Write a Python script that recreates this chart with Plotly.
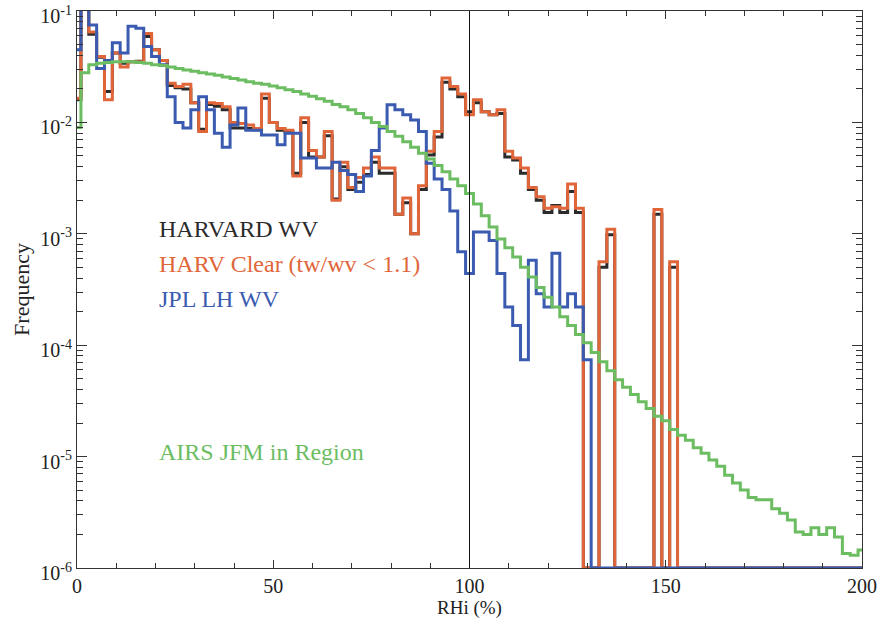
import numpy as np
import plotly.graph_objects as go

# Bin centres (RHi %, 2% bins)
rhi = list(range(0, 202, 2))

harvard_wv = [
    1.6e-2, 0.15, 6.2e-2, 3.85e-2, 1.9e-2, 4.2e-2, 3.4e-2, 3.5e-2, 3.55e-2, 5.9e-2,
    4.5e-2, 3.6e-2, 2.15e-2, 2.05e-2, 2.0e-2, 1.5e-2, 8.7e-3, 1.45e-2, 1.4e-2, 1.3e-2,
    8.9e-3, 8.9e-3, 8.8e-3, 8.6e-3, 1.65e-2, 1.0e-2, 8.5e-3, 8.2e-3, 3.5e-3, 1.0e-2,
    4.9e-3, 4.9e-3, 7.6e-3, 2.05e-3, 4.0e-3, 2.5e-3, 2.9e-3, 3.4e-3, 4.4e-3, 3.5e-3,
    3.5e-3, 1.5e-3, 1.9e-3, 1.0e-3, 2.5e-3, 5.1e-3, 7.4e-3, 2.3e-2, 2.0e-2, 1.7e-2,
    1.25e-2, 1.5e-2, 1.25e-2, 1.17e-2, 1.2e-2, 4.9e-3, 4.6e-3, 3.5e-3, 2.5e-3, 2.0e-3,
    1.55e-3, 1.8e-3, 1.55e-3, 2.4e-3, 1.55e-3, 0, 0, 5.0e-4, 9.8e-4, 0,
    0, 0, 0, 0, 1.5e-3, 0, 5.0e-4, 0, 0, 0,
    0, 0, 0, 0, 0, 0, 0, 0, 0, 0,
    0, 0, 0, 0, 0, 0, 0, 0, 0, 0,
    0,
]

harv_clear = [
    1.65e-2, 0.15, 6.5e-2, 3.9e-2, 1.6e-2, 4.2e-2, 3.15e-2, 3.5e-2, 3.5e-2, 6.3e-2,
    4.5e-2, 3.6e-2, 2.25e-2, 2.1e-2, 2.2e-2, 1.5e-2, 8.3e-3, 1.5e-2, 1.48e-2, 1.38e-2,
    1.0e-2, 9.8e-3, 9.5e-3, 8.8e-3, 1.8e-2, 1.0e-2, 8.8e-3, 8.5e-3, 3.3e-3, 1.1e-2,
    5.6e-3, 4.9e-3, 8.3e-3, 2.0e-3, 4.4e-3, 2.6e-3, 3.2e-3, 3.9e-3, 4.9e-3, 3.9e-3,
    3.9e-3, 1.5e-3, 2.1e-3, 1.0e-3, 2.7e-3, 5.5e-3, 8.3e-3, 2.5e-2, 2.1e-2, 1.8e-2,
    1.17e-2, 1.6e-2, 1.25e-2, 1.17e-2, 1.3e-2, 5.5e-3, 4.8e-3, 3.9e-3, 2.6e-3, 2.15e-3,
    1.7e-3, 1.75e-3, 1.7e-3, 2.8e-3, 1.7e-3, 0, 0, 5.6e-4, 1.1e-3, 0,
    0, 0, 0, 0, 1.65e-3, 0, 5.6e-4, 0, 0, 0,
    0, 0, 0, 0, 0, 0, 0, 0, 0, 0,
    0, 0, 0, 0, 0, 0, 0, 0, 0, 0,
    0,
]

jpl_lh_wv = [
    4.5e-2, 0.15, 7.5e-2, 3.05e-2, 3.6e-2, 5.2e-2, 4.2e-2, 7.3e-2, 7.0e-2, 4.8e-2,
    3.9e-2, 3.3e-2, 1.7e-2, 1.0e-2, 8.9e-3, 1.3e-2, 1.7e-2, 1.3e-2, 8.0e-3, 6.0e-3,
    9.5e-3, 1.35e-2, 8.5e-3, 8.5e-3, 7.7e-3, 7.7e-3, 6.3e-3, 8.0e-3, 8.0e-3, 4.8e-3,
    4.8e-3, 3.9e-3, 3.9e-3, 4.4e-3, 3.7e-3, 3.4e-3, 2.4e-3, 3.3e-3, 5.6e-3, 8.9e-3,
    1.44e-2, 1.3e-2, 1.17e-2, 1.05e-2, 8.3e-3, 4.3e-3, 3.1e-3, 2.5e-3, 1.6e-3, 6.9e-4,
    4.4e-4, 1.04e-3, 1.04e-3, 8.7e-4, 4.4e-4, 2.2e-4, 1.5e-4, 7.4e-5, 5.8e-4, 2.9e-4,
    2.2e-4, 6.7e-4, 2.2e-4, 2.9e-4, 2.2e-4, 7.4e-5, 0, 0, 0, 0,
    0, 0, 0, 0, 0, 0, 0, 0, 0, 0,
    0, 0, 0, 0, 0, 0, 0, 0, 0, 0,
    0, 0, 0, 0, 0, 0, 0, 0, 0, 0,
    0,
]

airs_jfm = [
    9.0e-3, 2.8e-2, 3.3e-2, 3.4e-2, 3.45e-2, 3.5e-2, 3.5e-2, 3.5e-2, 3.45e-2, 3.4e-2,
    3.3e-2, 3.25e-2, 3.15e-2, 3.05e-2, 2.95e-2, 2.88e-2, 2.8e-2, 2.72e-2, 2.65e-2, 2.56e-2,
    2.48e-2, 2.4e-2, 2.32e-2, 2.25e-2, 2.2e-2, 2.12e-2, 2.05e-2, 1.97e-2, 1.9e-2, 1.8e-2,
    1.72e-2, 1.63e-2, 1.55e-2, 1.45e-2, 1.38e-2, 1.3e-2, 1.2e-2, 1.1e-2, 1.0e-2, 9.2e-3,
    8.3e-3, 7.5e-3, 6.7e-3, 6.0e-3, 5.3e-3, 4.7e-3, 4.1e-3, 3.6e-3, 3.1e-3, 2.7e-3,
    2.3e-3, 1.85e-3, 1.45e-3, 1.15e-3, 9.0e-4, 7.5e-4, 6.2e-4, 5.0e-4, 4.1e-4, 3.3e-4,
    2.7e-4, 2.2e-4, 1.8e-4, 1.5e-4, 1.25e-4, 1.05e-4, 8.6e-5, 7.1e-5, 5.9e-5, 4.9e-5,
    4.2e-5, 3.6e-5, 3.1e-5, 2.7e-5, 2.3e-5, 2.1e-5, 1.75e-5, 1.55e-5, 1.4e-5, 1.2e-5,
    1.07e-5, 9.3e-6, 8.2e-6, 6.8e-6, 5.8e-6, 5.0e-6, 4.3e-6, 4.1e-6, 4.1e-6, 3.4e-6,
    3.1e-6, 2.7e-6, 2.1e-6, 2.0e-6, 2.3e-6, 2.0e-6, 2.3e-6, 1.9e-6, 1.35e-6, 1.3e-6,
    1.45e-6,
]

series_names = ["HARVARD WV", "HARV Clear (tw/wv < 1.1)", "JPL LH WV", "AIRS JFM in Region"]
series_colors = ["#2b2b2b", "#e0663a", "#3a5bb0", "#6cbd62"]
series_values = [harvard_wv, harv_clear, jpl_lh_wv, airs_jfm]

y_tick_vals = [1e-6, 1e-5, 1e-4, 1e-3, 1e-2, 1e-1]
y_tick_text = ["10<sup>-6</sup>", "10<sup>-5</sup>", "10<sup>-4</sup>",
               "10<sup>-3</sup>", "10<sup>-2</sup>", "10<sup>-1</sup>"]
y_floor = 1e-6

FONT = "Liberation Serif, Times New Roman, serif"

fig = go.Figure()
for name, color, vals in zip(series_names, series_colors, series_values):
    v = np.clip(np.array(vals, dtype=float), y_floor, None)
    fig.add_trace(go.Scatter(
        x=rhi, y=v, mode="lines", name=name,
        line=dict(color=color, width=3, shape="hvh"),
        showlegend=False, hoverinfo="skip",
    ))

fig.add_shape(type="line", xref="x", yref="paper", x0=100, x1=100, y0=0, y1=1,
              line=dict(color="#111111", width=1))

ann_y = [0.609, 0.546, 0.483, 0.208]
for name, color, yy in zip(series_names, series_colors, ann_y):
    fig.add_annotation(xref="paper", yref="paper", x=0.102, y=yy, text=name,
                       showarrow=False, xanchor="left", yanchor="middle",
                       font=dict(family=FONT, size=24, color=color))

minor_y = [m * 10.0 ** e for e in range(-6, -1) for m in range(2, 10)]

fig.update_layout(
    width=880, height=624,
    margin=dict(l=77, r=18, t=11, b=56, autoexpand=False),
    paper_bgcolor="white", plot_bgcolor="white",
    font=dict(family=FONT, size=20, color="#222222"),
)
fig.update_xaxes(
    range=[0, 200], tickvals=[0, 50, 100, 150, 200], automargin=False,
    ticks="inside", ticklen=8, tickcolor="#333333", mirror="allticks",
    showline=True, linecolor="#333333", linewidth=1, showgrid=False, zeroline=False,
    minor=dict(dtick=10, ticks="inside", ticklen=5, tickcolor="#333333", showgrid=False),
    title=dict(text="RHi (%)", font=dict(family=FONT, size=19), standoff=0),
    tickfont=dict(family=FONT, size=20), ticklabeloverflow="allow",
)
fig.update_yaxes(
    type="log", range=[-6.0005, -0.9995], tickvals=y_tick_vals, ticktext=y_tick_text,
    automargin=False,
    ticks="inside", ticklen=10, tickcolor="#333333", mirror="allticks",
    showline=True, linecolor="#333333", linewidth=1, showgrid=False, zeroline=False,
    minor=dict(tickvals=minor_y, ticks="inside", ticklen=6, tickcolor="#333333", showgrid=False),
    title=dict(text="Frequency", font=dict(family=FONT, size=22), standoff=4),
    tickfont=dict(family=FONT, size=20), ticklabeloverflow="allow", ticklabelshift=5,
)

fig.write_html("out.html", config={"displayModeBar": False},
               post_script="document.body.style.margin='0';document.body.style.padding='0';")
